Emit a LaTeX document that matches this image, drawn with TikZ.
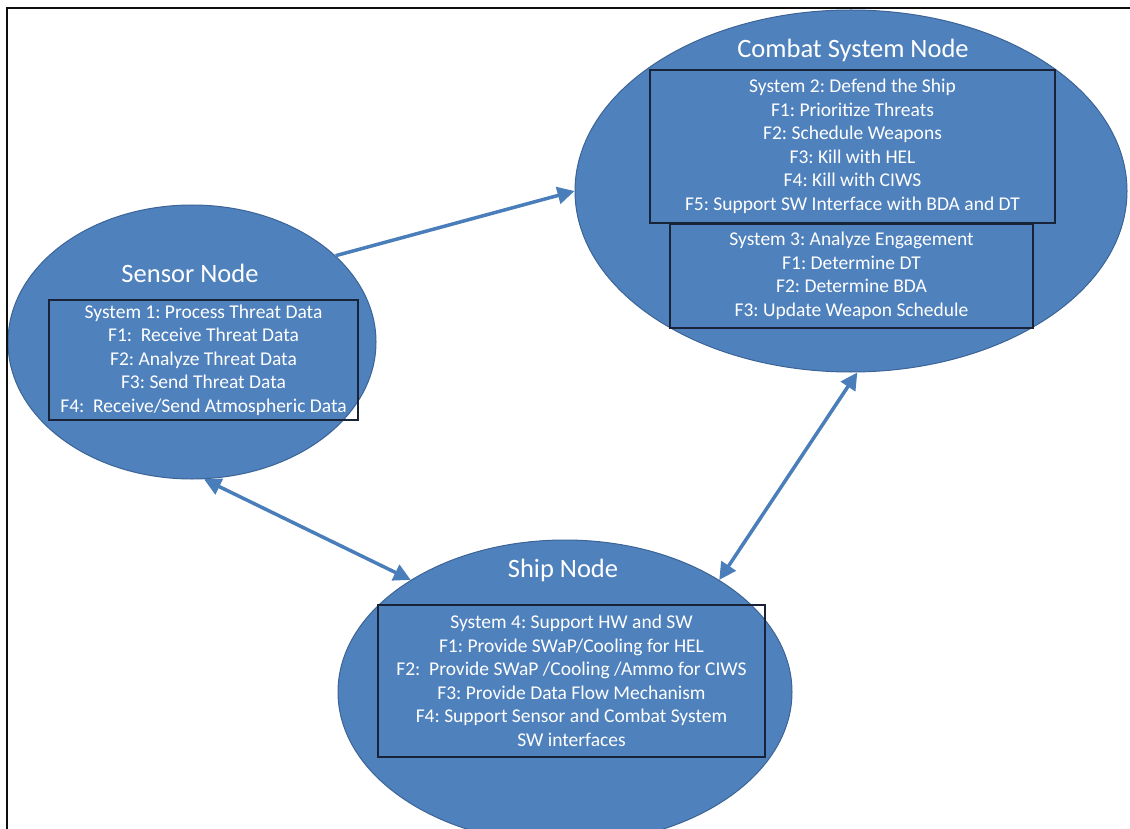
\documentclass[tikz,border=0pt]{standalone}
\usepackage{fontspec}
\setmainfont{Carlito}
\frenchspacing
\usetikzlibrary{arrows.meta,shapes.geometric}
\definecolor{nodeblue}{RGB}{79,129,189}
\definecolor{nodeedge}{RGB}{60,100,150}
\definecolor{boxedge}{RGB}{25,35,55}
\definecolor{linkblue}{RGB}{74,126,187}
\definecolor{framegray}{RGB}{15,15,15}

\begin{document}
\begin{tikzpicture}[x=1pt, y=-1pt,
		bignode/.style={ellipse, draw=nodeedge, fill=nodeblue, line width=1pt, inner sep=0pt},
		sysbox/.style={rectangle, draw=boxedge, line width=1.3pt, text=white, align=center, inner sep=0pt, font=\fontsize{19.5}{23.5}\selectfont},
		nodetitle/.style={text=white, anchor=base, inner sep=0pt, font=\fontsize{26.5}{30}\selectfont},
		link/.style={linkblue, line width=3.5pt, -{Triangle[length=17pt, width=17pt]}},
		twolink/.style={link, {Triangle[length=17pt, width=17pt]}-{Triangle[length=17pt, width=17pt]}}]
	\path[use as bounding box, clip] (0,0) rectangle (1130,829);
	
	% the three nodes
	\node[bignode, minimum width=368pt, minimum height=274pt] (sensor) at (192,342) {};
	\node[bignode, minimum width=552pt, minimum height=362pt] (combat) at (851,191) {};
	\node[bignode, minimum width=454pt, minimum height=304pt] (ship) at (565,692) {};
	
	\node[nodetitle] (sensortitle) at (190,282) {Sensor Node};
	\node[nodetitle] (combattitle) at (853,58) {Combat System Node};
	\node[nodetitle] (shiptitle) at (563,577) {Ship Node};
	
	\node[sysbox, minimum width=309pt, minimum height=120pt] (sys1) at (203.5,360) {System 1: Process Threat Data\\F1:~ Receive Threat Data\\F2: Analyze Threat Data\\F3: Send Threat Data\\F4:~ Receive/Send Atmospheric Data};
	\node[sysbox, minimum width=405pt, minimum height=153pt] (sys2) at (852.5,146.5) {System 2: Defend the Ship\\F1: Prioritize Threats\\F2: Schedule Weapons\\F3: Kill with HEL\\F4: Kill with CIWS\\F5: Support SW Interface with BDA and DT};
	\node[sysbox, minimum width=363pt, minimum height=104pt] (sys3) at (851.5,276) {System 3: Analyze Engagement\\F1: Determine DT\\F2: Determine BDA\\F3: Update Weapon Schedule};
	\node[sysbox, minimum width=387pt, minimum height=152pt] (sys4) at (571.5,681) {System 4: Support HW and SW\\F1: Provide SWaP/Cooling for HEL\\F2:~ Provide SWaP /Cooling /Ammo for CIWS\\F3: Provide Data Flow Mechanism\\F4: Support Sensor and Combat System\\SW interfaces};
	
	% links between nodes
	\draw[link] (sensor.31) -- (combat.180);
	\draw[twolink] (sensor.-85) -- (ship.144);
	\draw[twolink] (combat.-88) -- (ship.36);
	
	% frame
	\draw[framegray, line width=2.6pt] (7,840) -- (7,8) -- (1140,8);
\end{tikzpicture}
\end{document}
